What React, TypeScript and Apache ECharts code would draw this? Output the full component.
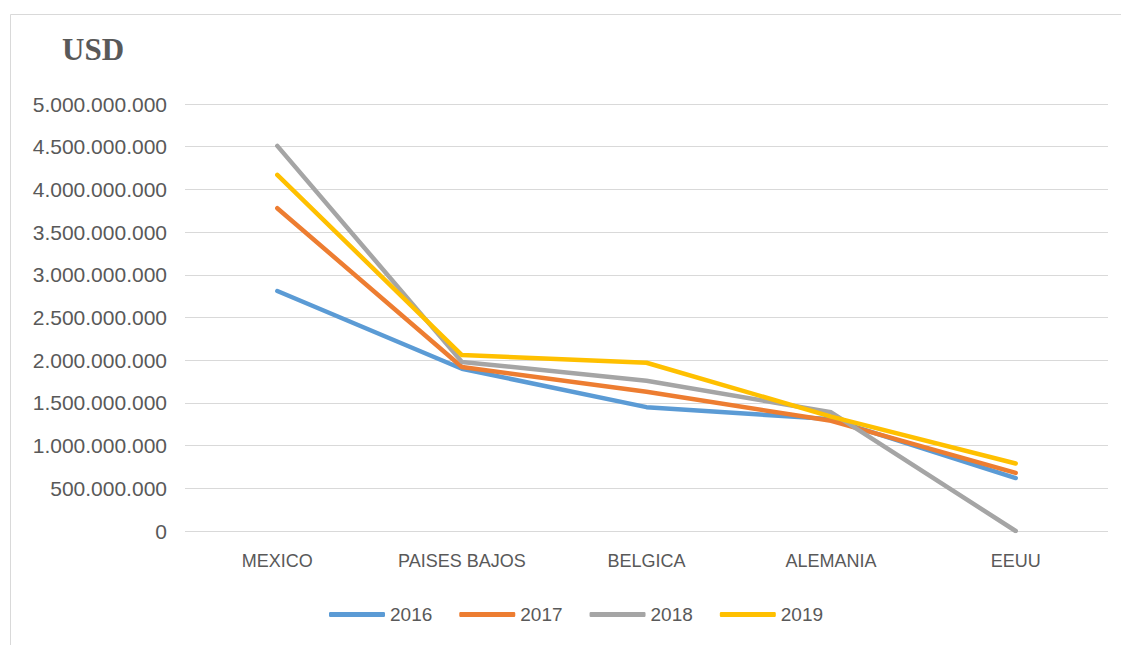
import React, { useEffect, useRef } from "react";
import * as echarts from "echarts";

const categories = ["MEXICO", "PAISES BAJOS", "BELGICA", "ALEMANIA", "EEUU"];
const years = ["2016", "2017", "2018", "2019"];
const values2016 = [2810000000, 1900000000, 1450000000, 1310000000, 620000000];
const values2017 = [3780000000, 1920000000, 1630000000, 1290000000, 680000000];
const values2018 = [4510000000, 1980000000, 1760000000, 1390000000, 0];
const values2019 = [4170000000, 2060000000, 1970000000, 1340000000, 790000000];
const colors = ["#5B9BD5", "#ED7D31", "#A5A5A5", "#FFC000"];

const fmt = (v: number) => String(Math.round(v)).replace(/\B(?=(\d{3})+(?!\d))/g, ".");

export default function App() {
  const ref = useRef<HTMLDivElement>(null);
  useEffect(() => {
    if (!ref.current) return;
    const chart = echarts.init(ref.current, undefined, { renderer: "svg" });
    const all = [values2016, values2017, values2018, values2019];
    chart.setOption({
      animation: false,
      backgroundColor: "#ffffff",
      graphic: [
        {
          type: "rect",
          shape: { x: 10.5, y: 14.5, width: 1300, height: 800 },
          style: { fill: "none", stroke: "#d9d9d9", lineWidth: 1 },
          silent: true,
        },
        {
          type: "text",
          left: 62,
          top: 34,
          style: {
            text: "USD",
            font: "bold 31px 'Liberation Serif'",
            fill: "#595959",
          },
        },
      ],
      grid: { left: 185, right: 13, top: 104, bottom: 114 },
      legend: {
        data: years,
        left: 324,
        top: 600,
        icon: "roundRect",
        itemWidth: 56,
        itemHeight: 5,
        itemGap: 27,
        textStyle: { fontFamily: "Liberation Sans", fontSize: 19, color: "#595959" },
      },
      xAxis: {
        type: "category",
        data: categories,
        boundaryGap: true,
        axisLine: { show: false },
        axisTick: { show: false },
        axisLabel: { fontFamily: "Liberation Sans", fontSize: 18, color: "#595959", margin: 21 },
      },
      yAxis: {
        type: "value",
        min: 0,
        max: 5000000000,
        interval: 500000000,
        axisLine: { show: false },
        axisTick: { show: false },
        splitLine: { lineStyle: { color: "#d9d9d9", width: 1 } },
        axisLabel: {
          fontFamily: "Liberation Sans",
          fontSize: 21,
          color: "#595959",
          margin: 18,
          formatter: (v: number) => fmt(v),
        },
      },
      series: years.map((y, i) => ({
        name: y,
        type: "line",
        data: all[i],
        symbol: "none",
        color: colors[i],
        lineStyle: { width: 4.5, color: colors[i], cap: "round", join: "round" },
      })),
    });
    return () => chart.dispose();
  }, []);
  return (
    <div
      ref={ref}
      style={{ position: "fixed", left: 0, top: 0, width: 1121, height: 645 }}
    />
  );
}
